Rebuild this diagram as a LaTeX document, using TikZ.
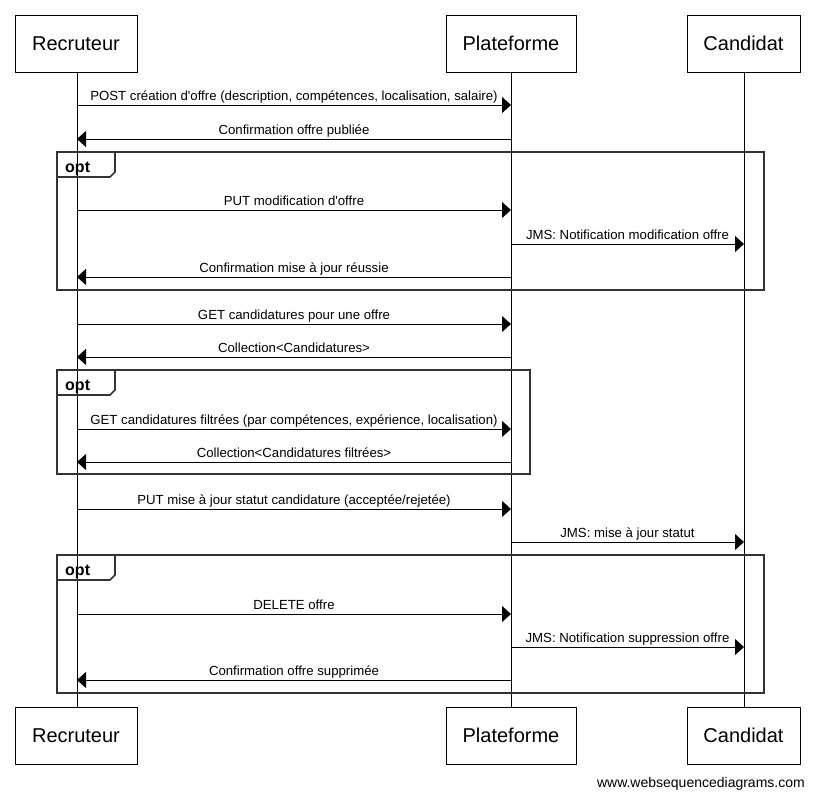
\documentclass[tikz,border=0pt]{standalone}
\usepackage{fontspec}
\setmainfont{Liberation Sans}[Ligatures=TeXOff]
\usetikzlibrary{arrows.meta}
\begin{document}
\begin{tikzpicture}[x=1pt,y=-1pt,
  actor/.style={draw=black,line width=0.9pt,fill=white,minimum height=57pt,inner sep=0pt,font=\fontsize{20}{24}\selectfont},
  life/.style={draw=black,line width=0.9pt},
  msg/.style={draw=black,line width=0.9pt,-{Triangle[length=9pt,width=16pt]}},
  lbl/.style={anchor=base,yshift=5pt,inner sep=0pt,font=\fontsize{13.2}{15}\selectfont},
  frame/.style={draw=black!80,line width=1.6pt},
  optlbl/.style={anchor=base west,inner sep=0pt,font=\bfseries\fontsize{16}{18}\selectfont}]
\useasboundingbox (0,0) rectangle (815,798);
\fill[white] (0,0) rectangle (815,798);
% actors
\node[actor,minimum width=122pt] (rt) at (76,43.5) {Recruteur};
\node[actor,minimum width=130pt] (pt) at (511,43.5) {Plateforme};
\node[actor,minimum width=113pt] (ct) at (743.5,43.5) {Candidat};
\node[actor,minimum width=122pt] (rb) at (76,735.5) {Recruteur};
\node[actor,minimum width=130pt] (pb) at (511,735.5) {Plateforme};
\node[actor,minimum width=113pt] (cb) at (743.5,735.5) {Candidat};
% lifelines
\coordinate (rT) at (77,72);  \coordinate (rB) at (77,707);
\coordinate (pT) at (511,72); \coordinate (pB) at (511,707);
\coordinate (cT) at (744,72); \coordinate (cB) at (744,707);
\draw[life] (rT) -- (rB);
\draw[life] (pT) -- (pB);
\draw[life] (cT) -- (cB);
% frames
\draw[frame] (57,152) rectangle (764,290);
\draw[frame] (57,177) -- (110,177) -- (115,172) -- (115,152);
\node[optlbl] (o1) at (65,172) {opt};
\draw[frame] (57,370) rectangle (530,474);
\draw[frame] (57,395) -- (110,395) -- (115,390) -- (115,370);
\node[optlbl] (o2) at (65,390) {opt};
\draw[frame] (57,555) rectangle (764,693);
\draw[frame] (57,580) -- (110,580) -- (115,575) -- (115,555);
\node[optlbl] (o3) at (65,575) {opt};
% messages
\coordinate (a1) at (77,105);  \coordinate (b1) at (511,105);
\draw[msg] (a1) -- (b1) node[lbl,pos=0.5] {POST création d'offre (description, compétences, localisation, salaire)};
\coordinate (a2) at (511,139); \coordinate (b2) at (77,139);
\draw[msg] (a2) -- (b2) node[lbl,pos=0.5] {Confirmation offre publiée};
\coordinate (a3) at (77,210);  \coordinate (b3) at (511,210);
\draw[msg] (a3) -- (b3) node[lbl,pos=0.5] {PUT modification d'offre};
\coordinate (a4) at (511,244); \coordinate (b4) at (744,244);
\draw[msg] (a4) -- (b4) node[lbl,pos=0.5] {JMS: Notification modification offre};
\coordinate (a5) at (511,277); \coordinate (b5) at (77,277);
\draw[msg] (a5) -- (b5) node[lbl,pos=0.5] {Confirmation mise à jour réussie};
\coordinate (a6) at (77,324);  \coordinate (b6) at (511,324);
\draw[msg] (a6) -- (b6) node[lbl,pos=0.5] {GET candidatures pour une offre};
\coordinate (a7) at (511,357); \coordinate (b7) at (77,357);
\draw[msg] (a7) -- (b7) node[lbl,pos=0.5] {Collection<Candidatures>};
\coordinate (a8) at (77,429);  \coordinate (b8) at (511,429);
\draw[msg] (a8) -- (b8) node[lbl,pos=0.5] {GET candidatures filtrées (par compétences, expérience, localisation)};
\coordinate (a9) at (511,462); \coordinate (b9) at (77,462);
\draw[msg] (a9) -- (b9) node[lbl,pos=0.5] {Collection<Candidatures filtrées>};
\coordinate (a10) at (77,509);  \coordinate (b10) at (511,509);
\draw[msg] (a10) -- (b10) node[lbl,pos=0.5] {PUT mise à jour statut candidature (acceptée/rejetée)};
\coordinate (a11) at (511,542); \coordinate (b11) at (744,542);
\draw[msg] (a11) -- (b11) node[lbl,pos=0.5] {JMS: mise à jour statut};
\coordinate (a12) at (77,614);  \coordinate (b12) at (511,614);
\draw[msg] (a12) -- (b12) node[lbl,pos=0.5] {DELETE offre};
\coordinate (a13) at (511,647); \coordinate (b13) at (744,647);
\draw[msg] (a13) -- (b13) node[lbl,pos=0.5] {JMS: Notification suppression offre};
\coordinate (a14) at (511,680); \coordinate (b14) at (77,680);
\draw[msg] (a14) -- (b14) node[lbl,pos=0.5] {Confirmation offre supprimée};
% footer
\node[anchor=base east,inner sep=0pt,font=\fontsize{14}{16}\selectfont] (ft) at (805,787) {www.websequencediagrams.com};
\end{tikzpicture}
\end{document}
